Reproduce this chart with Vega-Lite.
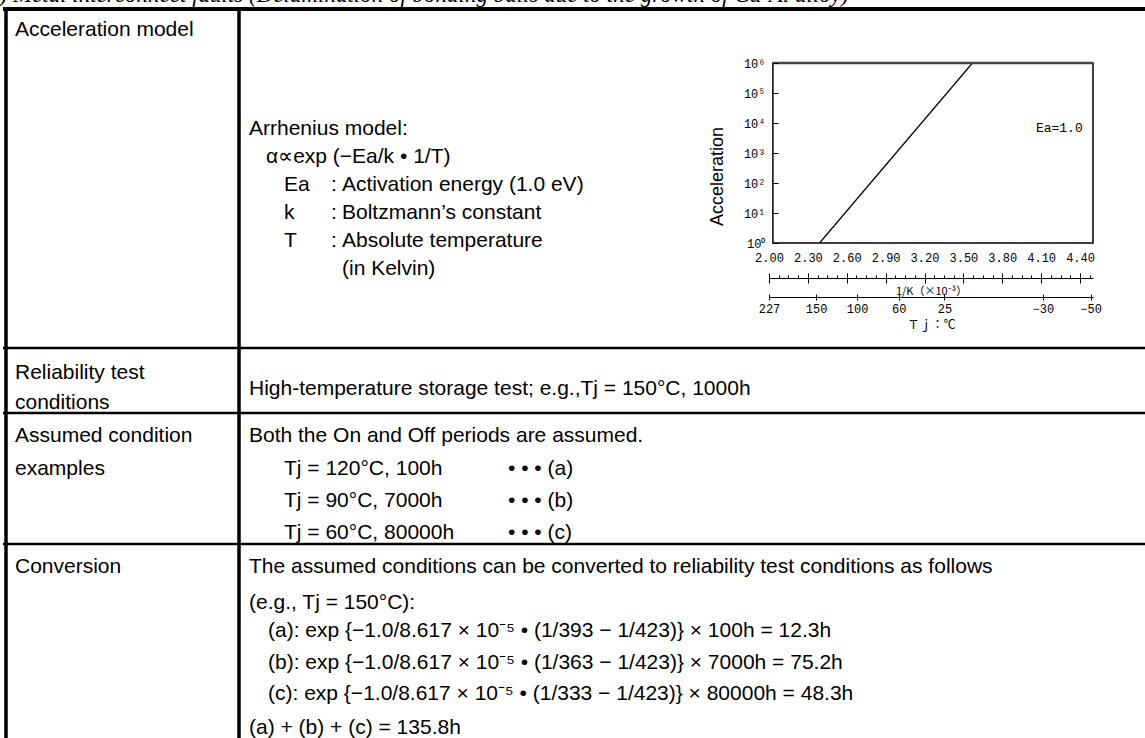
{
  "$schema": "https://vega.github.io/schema/vega-lite/v6.json",
  "width": 1145,
  "height": 738,
  "autosize": {"type": "none"},
  "padding": 0,
  "background": "white",
  "config": {
    "view": {"stroke": null},
    "axis": {"labelFlush": false, "labelOverlap": false, "grid": false}
  },
  "datasets": {
    "doc_text": [
      {"role": "title", "text": "2) Metal interconnect faults (Delamination of bonding balls due to the growth of Cu-Al alloy)", "indent": -0.6, "line": 0.062},
      {"role": "label", "text": "Acceleration model", "indent": 0.75, "line": 1.122},
      {"role": "label", "text": "Reliability test", "indent": 0.75, "line": 11.812},
      {"role": "label", "text": "conditions", "indent": 0.75, "line": 12.747},
      {"role": "label", "text": "Assumed condition", "indent": 0.75, "line": 13.775},
      {"role": "label", "text": "examples", "indent": 0.75, "line": 14.803},
      {"role": "label", "text": "Conversion", "indent": 0.75, "line": 17.858},
      {"role": "body", "text": "Arrhenius model:", "indent": 12.45, "line": 4.207},
      {"role": "body", "text": "α∝exp (−Ea/k • 1/T)", "indent": 13.3, "line": 5.08},
      {"role": "body", "text": "Ea", "indent": 14.2, "line": 5.953},
      {"role": "body", "text": ":", "indent": 16.55, "line": 5.953},
      {"role": "body", "text": "Activation energy (1.0 eV)", "indent": 17.1, "line": 5.953},
      {"role": "body", "text": "k", "indent": 14.2, "line": 6.825},
      {"role": "body", "text": ":", "indent": 16.55, "line": 6.825},
      {"role": "body", "text": "Boltzmann’s constant", "indent": 17.1, "line": 6.825},
      {"role": "body", "text": "T", "indent": 14.2, "line": 7.698},
      {"role": "body", "text": ":", "indent": 16.55, "line": 7.698},
      {"role": "body", "text": "Absolute temperature", "indent": 17.1, "line": 7.698},
      {"role": "body", "text": "(in Kelvin)", "indent": 17.1, "line": 8.57},
      {"role": "body", "text": "High-temperature storage test; e.g.,Tj = 150°C, 1000h", "indent": 12.45, "line": 12.31},
      {"role": "body", "text": "Both the On and Off periods are assumed.", "indent": 12.45, "line": 13.775},
      {"role": "body", "text": "Tj = 120°C, 100h", "indent": 14.2, "line": 14.803},
      {"role": "body", "text": "• • • (a)", "indent": 25.4, "line": 14.803},
      {"role": "body", "text": "Tj = 90°C, 7000h", "indent": 14.2, "line": 15.801},
      {"role": "body", "text": "• • • (b)", "indent": 25.4, "line": 15.801},
      {"role": "body", "text": "Tj = 60°C, 80000h", "indent": 14.2, "line": 16.798},
      {"role": "body", "text": "• • • (c)", "indent": 25.4, "line": 16.798},
      {"role": "body", "text": "The assumed conditions can be converted to reliability test conditions as follows", "indent": 12.45, "line": 17.858},
      {"role": "body", "text": "(e.g., Tj = 150°C):", "indent": 12.45, "line": 18.98},
      {"role": "body", "text": "(a): exp {−1.0/8.617 × 10⁻⁵ • (1/393 − 1/423)} × 100h = 12.3h", "indent": 13.4, "line": 19.852},
      {"role": "body", "text": "(b): exp {−1.0/8.617 × 10⁻⁵ • (1/363 − 1/423)} × 7000h = 75.2h", "indent": 13.4, "line": 20.85},
      {"role": "body", "text": "(c): exp {−1.0/8.617 × 10⁻⁵ • (1/333 − 1/423)} × 80000h = 48.3h", "indent": 13.4, "line": 21.816},
      {"role": "body", "text": "(a) + (b) + (c) = 135.8h", "indent": 12.45, "line": 22.875}
    ],
    "doc_rules": [
      {"edge": "top", "line": 0.28, "from": 0.15, "to": 57.25},
      {"edge": "row", "line": 10.845, "from": 0.15, "to": 57.25},
      {"edge": "row", "line": 12.871, "from": 0.15, "to": 57.25},
      {"edge": "row", "line": 16.954, "from": 0.15, "to": 57.25},
      {"edge": "side", "indent": 0.3, "from_line": 0.22, "to_line": 23.1},
      {"edge": "side", "indent": 11.95, "from_line": 0.22, "to_line": 23.1}
    ],
    "arrhenius": [
      {"inv_k": 2.39, "acc": 1},
      {"inv_k": 3.57, "acc": 1000000}
    ],
    "note": [
      {"label": "Ea=1.0", "inv_k": 4.24, "acc": 6800}
    ]
  },
  "layer": [
    {
      "layer": [
        {
          "data": {"name": "doc_rules"},
          "transform": [{"filter": "datum.edge === 'top'"}],
          "mark": {"type": "rule", "color": "black", "strokeWidth": 4},
          "encoding": {
            "x": {"field": "from", "type": "quantitative", "scale": {"domain": [0, 57.25], "nice": false, "zero": false}, "axis": null},
            "x2": {"field": "to"},
            "y": {"field": "line", "type": "quantitative", "scale": {"domain": [0, 23], "reverse": true, "nice": false, "zero": false}, "axis": null}
          }
        },
        {
          "data": {"name": "doc_rules"},
          "transform": [{"filter": "datum.edge === 'row'"}],
          "mark": {"type": "rule", "color": "black", "strokeWidth": 2.5},
          "encoding": {
            "x": {"field": "from", "type": "quantitative", "scale": {"domain": [0, 57.25], "nice": false, "zero": false}, "axis": null},
            "x2": {"field": "to"},
            "y": {"field": "line", "type": "quantitative", "scale": {"domain": [0, 23], "reverse": true, "nice": false, "zero": false}, "axis": null}
          }
        },
        {
          "data": {"name": "doc_rules"},
          "transform": [{"filter": "datum.edge === 'side'"}],
          "mark": {"type": "rule", "color": "black", "strokeWidth": 3.5},
          "encoding": {
            "x": {"field": "indent", "type": "quantitative", "scale": {"domain": [0, 57.25], "nice": false, "zero": false}, "axis": null},
            "y": {"field": "from_line", "type": "quantitative", "scale": {"domain": [0, 23], "reverse": true, "nice": false, "zero": false}, "axis": null},
            "y2": {"field": "to_line"}
          }
        },
        {
          "data": {"name": "doc_text"},
          "transform": [{"filter": "datum.role === 'title'"}],
          "mark": {"type": "text", "align": "left", "baseline": "alphabetic", "font": "Liberation Serif", "fontStyle": "italic", "fontSize": 23, "color": "black", "clip": true},
          "encoding": {
            "x": {"field": "indent", "type": "quantitative", "scale": {"domain": [0, 57.25], "nice": false, "zero": false}, "axis": null},
            "y": {"field": "line", "type": "quantitative", "scale": {"domain": [0, 23], "reverse": true, "nice": false, "zero": false}, "axis": null},
            "text": {"field": "text"}
          }
        },
        {
          "data": {"name": "doc_text"},
          "transform": [{"filter": "datum.role !== 'title'"}],
          "mark": {"type": "text", "align": "left", "baseline": "alphabetic", "font": "Liberation Sans", "fontSize": 21, "color": "black"},
          "encoding": {
            "x": {"field": "indent", "type": "quantitative", "scale": {"domain": [0, 57.25], "nice": false, "zero": false}, "axis": null},
            "y": {"field": "line", "type": "quantitative", "scale": {"domain": [0, 23], "reverse": true, "nice": false, "zero": false}, "axis": null},
            "text": {"field": "text"}
          }
        }
      ]
    },
    {
      "layer": [
        {
          "data": {"name": "arrhenius"},
          "mark": {"type": "point", "opacity": 0},
          "encoding": {
            "x": {"field": "inv_k", "type": "quantitative", "scale": {"domain": [2.0, 4.5], "range": [769, 1093], "nice": false, "zero": false}, "axis": null},
            "y": {
              "field": "acc", "type": "quantitative",
              "scale": {"type": "log", "domain": [1, 1000000], "range": [243, 63], "nice": false},
              "axis": {"orient": "left", "offset": -773, "values": [1, 10, 100, 1000, 10000, 100000, 1000000], "labelExpr": "'10' + ['⁰','¹','²','³','⁴','⁵','⁶'][round(log(datum.value) / LN10)]", "domain": false, "ticks": true, "tickSize": -5, "tickColor": "black", "tickWidth": 1, "labelPadding": 13, "labelFont": "Liberation Mono", "labelFontSize": 12, "labelColor": "black", "title": "Acceleration", "titleFont": "Liberation Sans", "titleFontSize": 18, "titleFontWeight": "normal", "titleColor": "black", "titleX": -56, "titleY": 176, "titleAlign": "center", "titleBaseline": "middle", "titleAngle": 270, "zindex": 2}
            }
          }
        },
        {
          "data": {"name": "arrhenius"},
          "mark": {"type": "line", "color": "black", "strokeWidth": 1.2},
          "encoding": {
            "x": {
              "field": "inv_k", "type": "quantitative",
              "scale": {"domain": [2.0, 4.5], "range": [769, 1093], "nice": false, "zero": false},
              "axis": {"orient": "bottom", "offset": -495, "values": [2.0, 2.3, 2.6, 2.9, 3.2, 3.5, 3.8, 4.1, 4.4], "labelExpr": "format(datum.value, '.2f')", "domain": false, "ticks": false, "tickSize": 0, "labelPadding": 9, "labelFont": "Liberation Mono", "labelFontSize": 12, "labelColor": "black", "title": null}
            },
            "y": {"field": "acc", "type": "quantitative", "scale": {"type": "log", "domain": [1, 1000000], "range": [243, 63], "nice": false}, "axis": null}
          }
        },
        {
          "data": {"values": [{"frame": "plot"}]},
          "mark": {"type": "rect", "fill": "transparent", "stroke": "black", "strokeWidth": 1.5},
          "encoding": {
            "x": {"datum": 2.03, "type": "quantitative", "scale": {"domain": [2.0, 4.5], "range": [769, 1093], "nice": false, "zero": false}, "axis": null},
            "x2": {"datum": 4.5},
            "y": {"datum": 1, "type": "quantitative", "scale": {"type": "log", "domain": [1, 1000000], "range": [243, 63], "nice": false}, "axis": null},
            "y2": {"datum": 1000000}
          }
        },
        {
          "data": {"values": [{"frame": "top"}]},
          "mark": {"type": "rule", "color": "#444444", "strokeWidth": 2.5},
          "encoding": {
            "x": {"datum": 2.03, "type": "quantitative", "scale": {"domain": [2.0, 4.5], "range": [769, 1093], "nice": false, "zero": false}, "axis": null},
            "x2": {"datum": 4.5},
            "y": {"datum": 1000000, "type": "quantitative", "scale": {"type": "log", "domain": [1, 1000000], "range": [243, 63], "nice": false}, "axis": null}
          }
        },
        {
          "data": {"name": "note"},
          "mark": {"type": "text", "align": "center", "baseline": "middle", "font": "Liberation Mono", "fontSize": 13, "color": "black"},
          "encoding": {
            "x": {"field": "inv_k", "type": "quantitative", "scale": {"domain": [2.0, 4.5], "range": [769, 1093], "nice": false, "zero": false}, "axis": null},
            "y": {"field": "acc", "type": "quantitative", "scale": {"type": "log", "domain": [1, 1000000], "range": [243, 63], "nice": false}, "axis": null},
            "text": {"field": "label"}
          }
        },
        {
          "data": {"name": "arrhenius"},
          "mark": {"type": "point", "opacity": 0},
          "encoding": {
            "x": {"field": "inv_k", "type": "quantitative", "scale": {"domain": [2.0, 4.5], "range": [769, 1093], "nice": false, "zero": false},
              "axis": {"orient": "bottom", "offset": -460, "values": [2.0, 2.3, 2.6, 2.9, 3.2, 3.5, 3.8, 4.1, 4.4], "labels": false, "domain": true, "domainColor": "black", "domainWidth": 1, "ticks": true, "tickSize": 5, "tickColor": "black", "tickWidth": 1, "title": "1/K（×10⁻³）", "titleFont": "Noto Sans CJK JP", "titleFontSize": 11, "titleFontWeight": "normal", "titleColor": "black", "titleY": 16, "titleBaseline": "alphabetic"}}
          }
        },
        {
          "data": {"name": "arrhenius"},
          "mark": {"type": "point", "opacity": 0},
          "encoding": {
            "x": {"field": "inv_k", "type": "quantitative", "scale": {"domain": [2.0, 4.5], "range": [769, 1093], "nice": false, "zero": false},
              "axis": {"orient": "bottom", "offset": -460, "values": [2.0, 2.3, 2.6, 2.9, 3.2, 3.5, 3.8, 4.1, 4.4], "labels": false, "domain": false, "ticks": true, "tickSize": -5, "tickColor": "black", "tickWidth": 1, "title": null}}
          }
        },
        {
          "data": {"name": "arrhenius"},
          "mark": {"type": "point", "opacity": 0},
          "encoding": {
            "x": {"field": "inv_k", "type": "quantitative", "scale": {"domain": [2.0, 4.5], "range": [769, 1093], "nice": false, "zero": false},
              "axis": {"orient": "bottom", "offset": -460, "values": [2.075, 2.15, 2.225, 2.375, 2.45, 2.525, 2.675, 2.75, 2.825, 2.975, 3.05, 3.125, 3.275, 3.35, 3.425, 3.575, 3.65, 3.725, 3.875, 3.95, 4.025, 4.175, 4.25, 4.325, 4.475], "labels": false, "domain": false, "ticks": true, "tickSize": -3, "tickColor": "black", "tickWidth": 1, "title": null}}
          }
        },
        {
          "data": {"name": "arrhenius"},
          "mark": {"type": "point", "opacity": 0},
          "encoding": {
            "x": {"field": "inv_k", "type": "quantitative", "scale": {"domain": [2.0, 4.5], "range": [769, 1093], "nice": false, "zero": false},
              "axis": {"orient": "bottom", "offset": -441, "values": [2.0, 2.3632, 2.6799, 3.0017, 3.354, 4.1127, 4.4813], "labelExpr": "format(round(1000 / datum.value - 273.15), 'd')", "labelPadding": 3, "labelFont": "Liberation Mono", "labelFontSize": 12, "labelColor": "black", "domain": true, "domainColor": "black", "domainWidth": 1, "ticks": true, "tickSize": 3, "tickColor": "black", "tickWidth": 1, "title": "Ｔｊ：℃", "titleFont": "Noto Sans CJK JP", "titleFontSize": 12, "titleFontWeight": "normal", "titleColor": "black", "titleY": 31, "titleBaseline": "alphabetic"}}
          }
        },
        {
          "data": {"name": "arrhenius"},
          "mark": {"type": "point", "opacity": 0},
          "encoding": {
            "x": {"field": "inv_k", "type": "quantitative", "scale": {"domain": [2.0, 4.5], "range": [769, 1093], "nice": false, "zero": false},
              "axis": {"orient": "bottom", "offset": -441, "values": [2.0, 2.3632, 2.6799, 3.0017, 3.354, 4.1127, 4.4813], "labels": false, "domain": false, "ticks": true, "tickSize": -3, "tickColor": "black", "tickWidth": 1, "title": null}}
          }
        }
      ],
      "resolve": {"axis": {"x": "independent", "y": "independent"}}
    }
  ],
  "resolve": {"scale": {"x": "independent", "y": "independent"}}
}
